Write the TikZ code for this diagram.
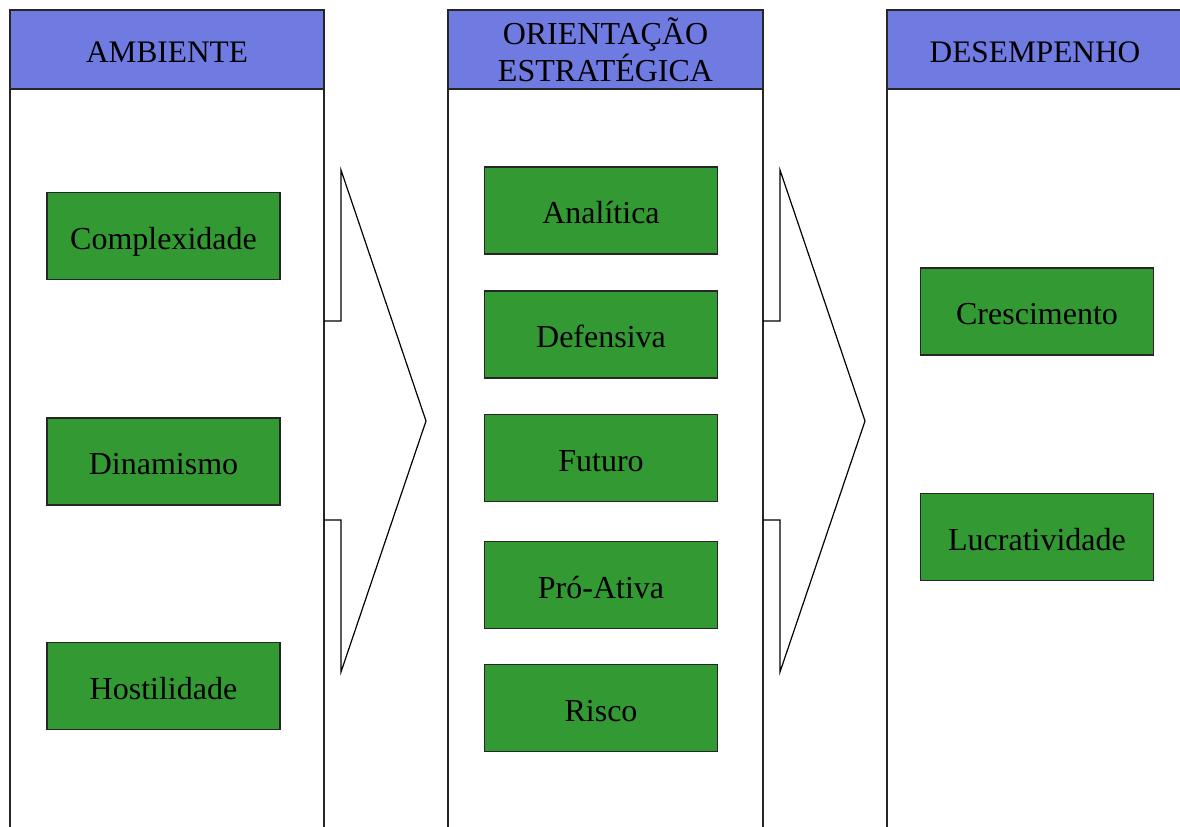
\documentclass[tikz,border=0pt]{standalone}
\usepackage{fontspec}
\setmainfont{Liberation Serif}
\definecolor{headblue}{RGB}{111,123,224}
\definecolor{boxgreen}{RGB}{51,153,51}
\begin{document}
\begin{tikzpicture}[x=0.75pt,y=-0.75pt,
  column/.style={draw=black!85,line width=0.9pt,fill=white},
  header/.style={draw=black!85,line width=1.1pt,fill=headblue,inner sep=0pt,
    minimum height=59.25pt,align=center,font=\fontsize{23.5}{27}\selectfont},
  oneline/.style={text height=19.3pt,text depth=0pt},
  gbox/.style={draw=black!85,line width=0.9pt,fill=boxgreen,inner sep=0pt,
    minimum width=174.75pt,minimum height=65.25pt,font=\fontsize{24}{28}\selectfont,
    text height=19.6pt,text depth=0pt},
  chevron/.style={draw=black,line width=0.9pt,line join=miter}]
\useasboundingbox (0,0) rectangle (1180,827);
\clip (0,0) rectangle (1180,827);

% columns
\draw[column] (10,10) rectangle (324,860);
\draw[column] (448,10) rectangle (763,860);
\draw[column] (887,10) rectangle (1200,860);

% headers
\node[header,oneline,minimum width=235.5pt] (hamb) at (167,49.5) {AMBIENTE};
\node[header,minimum width=236.25pt,font=\fontsize{24}{28}\selectfont] (hori) at (605.5,49.5) {ORIENTAÇÃO\\ESTRATÉGICA};
\node[header,oneline,minimum width=222pt] (hdes) at (1035,49.5) {DESEMPENHO};

% chevrons between the columns
\draw[chevron] (324,321) -- (341,321) -- (341,170) -- (426,421) -- (341,672) -- (341,520) -- (324,520);
\draw[chevron] (763,321) -- (780,321) -- (780,170) -- (865,421) -- (780,672) -- (780,520) -- (763,520);

% ambiente
\node[gbox] (comp) at (163.5,236) {Complexidade};
\node[gbox] (dina) at (163.5,461.5) {Dinamismo};
\node[gbox] (host) at (163.5,686) {Hostilidade};

% orientacao estrategica
\node[gbox] (anal) at (601,210.5) {Analítica};
\node[gbox] (defe) at (601,334.5) {Defensiva};
\node[gbox] (futu) at (601,458) {Futuro};
\node[gbox] (proa) at (601,585) {Pró-Ativa};
\node[gbox] (risc) at (601,708) {Risco};

% desempenho
\node[gbox] (cres) at (1037,311.5) {Crescimento};
\node[gbox] (lucr) at (1037,537) {Lucratividade};
\end{tikzpicture}
\end{document}
